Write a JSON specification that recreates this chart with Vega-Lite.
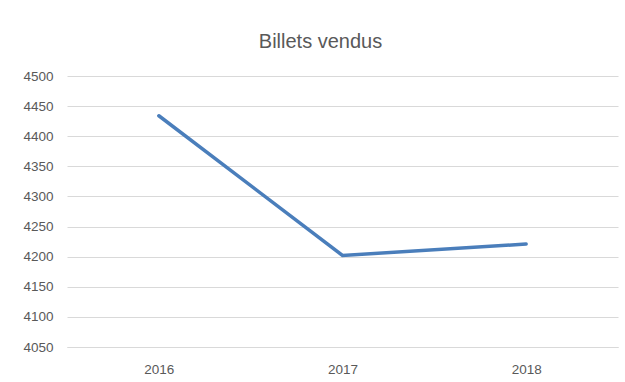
{
  "$schema": "https://vega.github.io/schema/vega-lite/v6.json",
  "width": 551,
  "height": 271,
  "autosize": {"type": "none"},
  "padding": {"left": 67, "top": 76, "right": 7, "bottom": 35},
  "background": "white",
  "title": {
    "text": "Billets vendus",
    "font": "Liberation Sans",
    "fontSize": 20,
    "fontWeight": "normal",
    "color": "#595959",
    "anchor": "middle",
    "dx": -22,
    "offset": 17
  },
  "data": {
    "values": [
      {"annee": "2016", "billets": 4434},
      {"annee": "2017", "billets": 4202},
      {"annee": "2018", "billets": 4221}
    ]
  },
  "mark": {"type": "line", "color": "#4a7ebb", "strokeWidth": 3.5, "strokeCap": "round"},
  "encoding": {
    "x": {
      "field": "annee",
      "type": "ordinal",
      "scale": {"type": "point", "padding": 0.5},
      "axis": {
        "title": null,
        "labelAngle": 0,
        "ticks": false,
        "domainColor": "#d9d9d9",
        "domainWidth": 1,
        "labelPadding": 15,
        "labelBaseline": "top"
      }
    },
    "y": {
      "field": "billets",
      "type": "quantitative",
      "scale": {"domain": [4050, 4500], "nice": false, "zero": false},
      "axis": {
        "title": null,
        "format": "d",
        "values": [4050, 4100, 4150, 4200, 4250, 4300, 4350, 4400, 4450, 4500],
        "ticks": false,
        "domain": false,
        "grid": true,
        "gridColor": "#d9d9d9",
        "gridWidth": 1,
        "labelPadding": 14
      }
    }
  },
  "config": {
    "view": {"stroke": null},
    "axis": {
      "labelFont": "Liberation Sans",
      "labelFontSize": 13.5,
      "labelColor": "#595959"
    }
  }
}
